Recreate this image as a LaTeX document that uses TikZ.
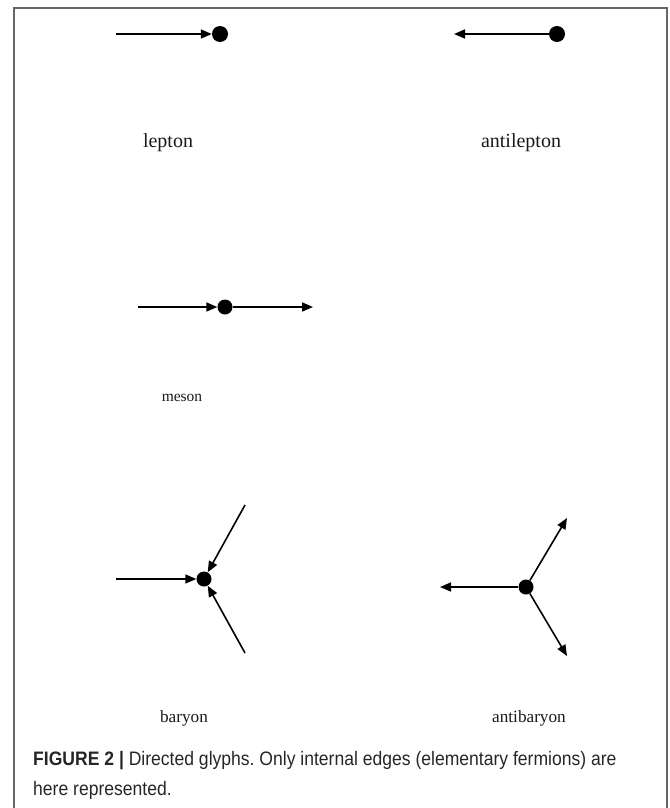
\documentclass[tikz,border=0pt]{standalone}
\usepackage{fontspec}
\setmainfont{Liberation Serif}
\newfontfamily\capfont[FakeStretch=0.9]{Liberation Sans}
\usetikzlibrary{arrows.meta}
\frenchspacing
\tikzset{
  dot/.style={circle,fill=black,inner sep=0pt,minimum size=16pt},
  sdot/.style={circle,fill=black,inner sep=0pt,minimum size=15pt},
  edge/.style={line width=1.6pt,-{Triangle[length=11pt,width=9pt]}},
  lbl/.style={anchor=base,text=black!90},
  frameline/.style={line width=1.8pt,draw=black!60},
  captxt/.style={anchor=base west,inner sep=0pt,text=black!85,font=\capfont\fontsize{19.5}{23}\selectfont},
}
\begin{document}
\begin{tikzpicture}[x=1pt,y=-1pt]
\useasboundingbox (0,0) rectangle (669,808);
\draw[frameline] (14,808) -- (14,8) -- (667,8) -- (667,808);
% lepton
\coordinate (l0) at (116,34);
\node[dot] (l1) at (220,34) {};
\draw[edge] (l0) -- (l1);
\node[lbl,font=\fontsize{20}{24}\selectfont] (lt) at (168,147) {lepton};
% antilepton
\node[dot] (a1) at (557,34) {};
\coordinate (a0) at (454,34);
\draw[edge] (a1) -- (a0);
\node[lbl,font=\fontsize{20}{24}\selectfont] (at) at (521,147) {antilepton};
% meson
\coordinate (m0) at (138,307);
\node[sdot] (m1) at (225,307) {};
\coordinate (m2) at (313,307);
\draw[edge] (m0) -- (m1);
\draw[edge] (m1) -- (m2);
\node[lbl,font=\fontsize{15.5}{18}\selectfont] (mt) at (182,401) {meson};
% baryon
\node[sdot] (b1) at (204,579) {};
\coordinate (b0) at (116,579);
\coordinate (bu) at (245,505);
\coordinate (bd) at (245,653);
\draw[edge] (b0) -- (b1);
\draw[edge] (bu) -- (b1);
\draw[edge] (bd) -- (b1);
\node[lbl,font=\fontsize{17.2}{20}\selectfont] (bt) at (184,722) {baryon};
% antibaryon
\node[sdot] (c1) at (526,587) {};
\coordinate (c0) at (440,587);
\coordinate (cu) at (567,518);
\coordinate (cd) at (567,656);
\draw[edge] (c1) -- (c0);
\draw[edge] (c1) -- (cu);
\draw[edge] (c1) -- (cd);
\node[lbl,font=\fontsize{17.2}{20}\selectfont] (ct) at (529,722) {antibaryon};
% caption
\node[captxt] (cap1) at (33,765)
  {\textbf{FIGURE 2 |} Directed glyphs. Only internal edges (elementary fermions) are};
\node[captxt] (cap2) at (33,795) {here represented.};
\end{tikzpicture}
\end{document}
